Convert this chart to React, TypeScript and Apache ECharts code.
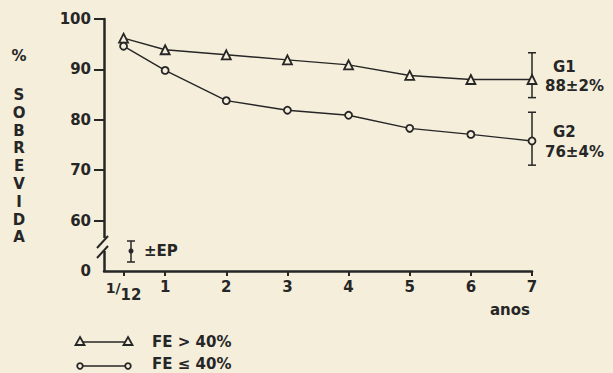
import React, { useEffect, useRef } from 'react';
import * as echarts from 'echarts';

const xLabels = ['1/12', '1', '2', '3', '4', '5', '6', '7'];
const xPositions = [0.32, 1, 2, 3, 4, 5, 6, 7];
const g1Values = [96.2, 93.9, 92.9, 91.9, 90.9, 88.8, 88.0, 88.0];
const g2Values = [94.6, 89.8, 83.8, 81.9, 80.9, 78.3, 77.1, 75.8];
const errorBars = [
  [7, 84.4, 93.3],
  [7, 71.0, 81.5],
];
const yLabelValues = [50, 60, 70, 80, 90, 100];
const yLabelTexts = ['0', '60', '70', '80', '90', '100'];
const yTickValues = [60, 70, 80, 90, 100];
const groupNames = ['FE > 40%', 'FE ≤ 40%'];
const groupNotes = [
  ['G1', '88±2%'],
  ['G2', '76±4%'],
];

const INK = '#262626';
const BG = '#f4eedb';
const FONT = 'DejaVu Sans';

export default function App() {
  const ref = useRef<HTMLDivElement>(null);
  useEffect(() => {
    if (!ref.current) return;
    const chart = echarts.init(ref.current, undefined, { renderer: 'svg' });
    const txt = { fill: INK, fontFamily: FONT, fontSize: 15, fontWeight: 'bold' };
    const lineStyle = { stroke: INK, lineWidth: 1.5 };
    chart.setOption({
      animation: false,
      backgroundColor: BG,
      grid: { left: 104, right: 81, top: 19, bottom: 102 },
      xAxis: {
        type: 'value',
        min: 0,
        max: 7,
        axisLine: { show: true, lineStyle: { color: INK, width: 2.5 } },
        axisTick: { show: true, length: 5, customValues: xPositions, lineStyle: { color: INK, width: 2 } },
        axisLabel: {
          customValues: xPositions,
          margin: 8,
          color: INK,
          fontFamily: FONT,
          fontSize: 15,
          fontWeight: 'bold',
          formatter: (v: number) => {
            let best = 0;
            xPositions.forEach((p, i) => {
              if (Math.abs(p - v) < Math.abs(xPositions[best] - v)) best = i;
            });
            const l = xLabels[best];
            if (l.includes('/')) {
              const [a, b] = l.split('/');
              return `{n|${a}/}{d|${b}}`;
            }
            return l;
          },
          rich: {
            n: { fontSize: 14, color: INK, fontFamily: FONT, fontWeight: 'bold', padding: [0, 0, 6, 0] },
            d: { fontSize: 15, color: INK, fontFamily: FONT, fontWeight: 'bold', padding: [8, 0, 0, 0] },
          },
        },
        splitLine: { show: false },
      },
      yAxis: {
        type: 'value',
        min: 50,
        max: 100,
        interval: 10,
        axisLine: { show: true, lineStyle: { color: INK, width: 2.5 } },
        axisTick: { show: true, length: 10, customValues: yTickValues, lineStyle: { color: INK, width: 2 } },
        axisLabel: {
          customValues: yLabelValues,
          margin: 13,
          color: INK,
          fontFamily: FONT,
          fontSize: 15,
          fontWeight: 'bold',
          formatter: (v: number) => yLabelTexts[yLabelValues.indexOf(v)] ?? String(v),
        },
        splitLine: { show: false },
      },
      series: [
        {
          type: 'custom',
          name: 'EP',
          z: 1,
          clip: false,
          data: errorBars,
          encode: { x: 0, y: [1, 2] },
          renderItem: (params: any, api: any) => {
            const x = api.value(0);
            const lo = api.coord([x, api.value(1)]);
            const hi = api.coord([x, api.value(2)]);
            const w = 4;
            return {
              type: 'group',
              children: [
                { type: 'line', shape: { x1: lo[0], y1: lo[1], x2: hi[0], y2: hi[1] }, style: lineStyle },
                { type: 'line', shape: { x1: lo[0] - w, y1: lo[1], x2: lo[0] + w, y2: lo[1] }, style: lineStyle },
                { type: 'line', shape: { x1: hi[0] - w, y1: hi[1], x2: hi[0] + w, y2: hi[1] }, style: lineStyle },
              ],
            };
          },
        },
        {
          type: 'line',
          name: groupNames[0],
          z: 3,
          data: xPositions.map((x, i) => [x, g1Values[i]]),
          symbol: 'triangle',
          symbolSize: 9,
          showAllSymbol: true,
          lineStyle: { color: INK, width: 1.4 },
          itemStyle: { color: BG, borderColor: INK, borderWidth: 1.8 },
        },
        {
          type: 'line',
          name: groupNames[1],
          z: 3,
          data: xPositions.map((x, i) => [x, g2Values[i]]),
          symbol: 'circle',
          symbolSize: 7,
          showAllSymbol: true,
          lineStyle: { color: INK, width: 1.4 },
          itemStyle: { color: BG, borderColor: INK, borderWidth: 1.8 },
        },
      ],
      graphic: [
        // axis title
        { type: 'text', z: 100, x: 19, y: 56, style: { ...txt, text: '%', align: 'center', verticalAlign: 'middle' } },
        {
          type: 'text', z: 100, x: 19, y: 86,
          style: { ...txt, text: 'SOBREVIDA'.split('').join('\n'), align: 'center', verticalAlign: 'top', lineHeight: 17.8, fontSize: 15 },
        },
        // y-axis break
        { type: 'rect', z: 100, shape: { x: 100, y: 238, width: 8, height: 13 }, style: { fill: BG } },
        { type: 'line', z: 101, shape: { x1: 97, y1: 248, x2: 108, y2: 236 }, style: { stroke: INK, lineWidth: 2 } },
        { type: 'line', z: 101, shape: { x1: 97, y1: 258, x2: 108, y2: 246 }, style: { stroke: INK, lineWidth: 2 } },
        // ±EP key
        { type: 'line', z: 100, shape: { x1: 131, y1: 241, x2: 131, y2: 262 }, style: lineStyle },
        { type: 'line', z: 100, shape: { x1: 127, y1: 241, x2: 135, y2: 241 }, style: lineStyle },
        { type: 'line', z: 100, shape: { x1: 127, y1: 262, x2: 135, y2: 262 }, style: lineStyle },
        { type: 'circle', z: 100, shape: { cx: 131, cy: 251, r: 2.5 }, style: { fill: INK } },
        { type: 'text', z: 100, x: 144, y: 251, style: { ...txt, text: '±EP', verticalAlign: 'middle' } },
        // anos
        { type: 'text', z: 100, x: 510, y: 310, style: { ...txt, text: 'anos', align: 'center', verticalAlign: 'middle' } },
        // group notes
        { type: 'text', z: 100, x: 553, y: 67, style: { ...txt, text: groupNotes[0][0], verticalAlign: 'middle' } },
        { type: 'text', z: 100, x: 545, y: 86, style: { ...txt, text: groupNotes[0][1], verticalAlign: 'middle' } },
        { type: 'text', z: 100, x: 553, y: 132, style: { ...txt, text: groupNotes[1][0], verticalAlign: 'middle' } },
        { type: 'text', z: 100, x: 545, y: 152, style: { ...txt, text: groupNotes[1][1], verticalAlign: 'middle' } },
        // legend
        { type: 'line', z: 100, shape: { x1: 80, y1: 342, x2: 128, y2: 342 }, style: lineStyle },
        { type: 'polygon', z: 101, shape: { points: [[80, 337], [84.5, 345], [75.5, 345]] }, style: { fill: BG, stroke: INK, lineWidth: 1.8 } },
        { type: 'polygon', z: 101, shape: { points: [[128, 337], [132.5, 345], [123.5, 345]] }, style: { fill: BG, stroke: INK, lineWidth: 1.8 } },
        { type: 'text', z: 100, x: 152, y: 342, style: { ...txt, text: groupNames[0], verticalAlign: 'middle' } },
        { type: 'line', z: 100, shape: { x1: 80, y1: 366, x2: 128, y2: 366 }, style: lineStyle },
        { type: 'circle', z: 101, shape: { cx: 80, cy: 366, r: 2.8 }, style: { fill: BG, stroke: INK, lineWidth: 1.8 } },
        { type: 'circle', z: 101, shape: { cx: 128, cy: 366, r: 2.8 }, style: { fill: BG, stroke: INK, lineWidth: 1.8 } },
        { type: 'text', z: 100, x: 152, y: 364, style: { ...txt, text: groupNames[1], verticalAlign: 'middle' } },
      ],
    });
    return () => chart.dispose();
  }, []);
  return <div ref={ref} style={{ position: 'fixed', left: 0, top: 0, width: 613, height: 373 }} />;
}
